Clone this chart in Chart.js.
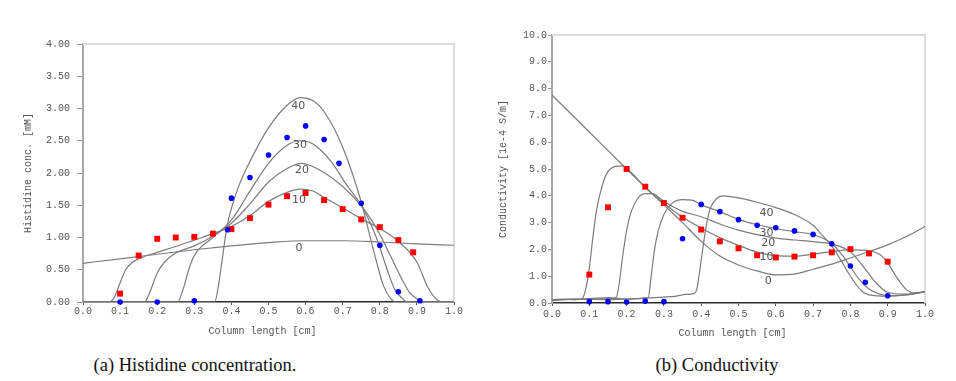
<!DOCTYPE html>
<html><head><meta charset="utf-8">
<script src="https://cdn.jsdelivr.net/npm/chart.js@4.4.1/dist/chart.umd.min.js"></script>
<style>
html,body{margin:0;padding:0;background:#fff}
body{width:956px;height:381px;position:relative;overflow:hidden}
#c1{position:absolute;left:0;top:0}
#c2{position:absolute;left:470px;top:0}
.cap{position:absolute;top:355px;font-family:"Liberation Serif","DejaVu Serif",serif;font-size:18.5px;color:#111;white-space:nowrap;transform:translateX(-50%)}
</style></head><body>
<canvas id="c1" width="470" height="345"></canvas>
<canvas id="c2" width="486" height="345"></canvas>
<div class="cap" style="left:195px">(a) Histidine concentration.</div>
<div class="cap" style="left:717px">(b) Conductivity</div>
<script>
// ---------- shared ticks ----------
const xTickVals = [0,0.1,0.2,0.3,0.4,0.5,0.6,0.7,0.8,0.9,1.0];
const histYTicks = [0,0.5,1,1.5,2,2.5,3,3.5,4];
const condYTicks = [0,1,2,3,4,5,6,7,8,9,10];

// ---------- (a) histidine: measured points ----------
const histRedX = [0.1,0.15,0.2,0.25,0.3,0.35,0.4,0.45,0.5,0.55,0.6,0.65,0.7,0.75,0.8,0.85,0.89];
const histRedY = [0.13,0.72,0.98,1.0,1.01,1.06,1.13,1.30,1.51,1.64,1.69,1.58,1.44,1.28,1.16,0.96,0.77];
const histBlueX = [0.1,0.2,0.3,0.39,0.4,0.45,0.5,0.55,0.6,0.65,0.69,0.75,0.8,0.85,0.908];
const histBlueY = [0,0,0.02,1.12,1.61,1.93,2.28,2.55,2.73,2.52,2.15,1.53,0.88,0.16,0.02];

// ---------- (a) histidine: model curves ----------
const hc0X = [0,0.1,0.2,0.3,0.4,0.5,0.6,0.7,0.8,0.9,1.0];
const hc0Y = [0.60,0.67,0.74,0.81,0.87,0.92,0.95,0.95,0.93,0.90,0.88];
const hc10X = [0,0.07,0.085,0.1,0.115,0.13,0.15,0.2,0.25,0.3,0.35,0.4,0.45,0.5,0.55,0.585,0.62,0.65,0.7,0.75,0.8,0.85,0.9,0.93,0.955,0.97,1.0];
const hc10Y = [0,0,0.08,0.3,0.5,0.6,0.67,0.77,0.86,0.96,1.06,1.17,1.34,1.56,1.7,1.75,1.72,1.62,1.46,1.29,1.14,0.94,0.62,0.22,0.03,0,0];
const hc20X = [0,0.165,0.18,0.2,0.22,0.25,0.3,0.35,0.4,0.45,0.5,0.55,0.59,0.64,0.7,0.75,0.78,0.8,0.83,0.86,0.88,0.9,0.92,1.0];
const hc20Y = [0,0,0.15,0.45,0.62,0.76,0.87,1.02,1.22,1.52,1.86,2.07,2.15,2.04,1.79,1.49,1.25,1.05,0.7,0.35,0.15,0.05,0,0];
const hc30X = [0,0.255,0.27,0.285,0.3,0.35,0.4,0.45,0.5,0.55,0.585,0.62,0.67,0.71,0.75,0.78,0.8,0.82,0.84,0.86,0.875,1.0];
const hc30Y = [0,0,0.2,0.5,0.72,1.0,1.27,1.72,2.15,2.43,2.5,2.45,2.17,1.82,1.5,1.15,0.85,0.5,0.2,0.06,0,0];
const hc40X = [0,0.355,0.365,0.375,0.388,0.4,0.42,0.45,0.5,0.55,0.585,0.62,0.65,0.7,0.75,0.77,0.79,0.81,0.83,0.845,1.0];
const hc40Y = [0,0,0.25,0.65,1.17,1.45,1.8,2.18,2.7,3.05,3.17,3.12,2.95,2.4,1.55,1.1,0.65,0.25,0.05,0,0];

const histLabelText = ['40','30','20','10','0'];
const histLabelX = [0.58,0.585,0.59,0.582,0.582];
const histLabelY = [3.04,2.43,2.05,1.58,0.84];

// ---------- (b) conductivity: measured points ----------
const condRedX = [0.1,0.15,0.2,0.25,0.3,0.35,0.4,0.45,0.5,0.55,0.6,0.65,0.7,0.75,0.8,0.85,0.9];
const condRedY = [1.06,3.57,5.0,4.34,3.73,3.18,2.74,2.30,2.04,1.78,1.70,1.73,1.78,1.89,2.01,1.85,1.54];
const condBlueX = [0.1,0.15,0.2,0.25,0.3,0.35,0.4,0.45,0.5,0.55,0.6,0.65,0.7,0.75,0.8,0.84,0.9];
const condBlueY = [0.05,0.05,0.04,0.07,0.05,2.40,3.68,3.41,3.11,2.90,2.81,2.69,2.56,2.21,1.38,0.77,0.27];

// ---------- (b) conductivity: model curves ----------
const cc0X = [0,0.1,0.2,0.25,0.3,0.35,0.4,0.45,0.5,0.55,0.6,0.65,0.7,0.75,0.8,0.85,0.9,0.95,1.0];
const cc0Y = [7.76,6.38,5.0,4.32,3.66,3.0,2.3,1.75,1.42,1.2,1.05,1.08,1.26,1.45,1.68,1.92,2.17,2.48,2.85];
const cc10X = [0,0.03,0.06,0.08,0.09,0.1,0.11,0.12,0.135,0.15,0.17,0.19,0.21,0.25,0.3,0.35,0.4,0.45,0.5,0.55,0.6,0.65,0.7,0.75,0.8,0.85,0.88,0.9,0.92,0.95,0.97,1.0];
const cc10Y = [0.12,0.14,0.12,0.15,0.5,1.3,2.5,3.5,4.4,4.9,5.1,5.12,4.9,4.32,3.72,3.2,2.8,2.44,2.15,1.9,1.77,1.75,1.82,1.92,1.98,1.95,1.8,1.5,1.05,0.5,0.38,0.42];
const cc20X = [0,0.05,0.1,0.15,0.172,0.18,0.19,0.2,0.21,0.23,0.25,0.27,0.29,0.3,0.35,0.4,0.45,0.5,0.55,0.6,0.65,0.7,0.75,0.8,0.835,0.87,0.9,0.95,1.0];
const cc20Y = [0.12,0.15,0.13,0.16,0.2,0.7,1.8,2.7,3.3,3.9,4.08,4.08,3.9,3.8,3.42,3.22,2.95,2.72,2.55,2.42,2.35,2.29,2.2,1.91,1.35,0.73,0.4,0.33,0.42];
const cc30X = [0,0.05,0.1,0.15,0.2,0.258,0.265,0.275,0.285,0.3,0.32,0.35,0.375,0.4,0.45,0.5,0.55,0.6,0.65,0.7,0.75,0.78,0.8,0.82,0.85,0.88,0.9,0.95,1.0];
const cc30Y = [0.1,0.13,0.15,0.12,0.15,0.2,0.9,2.0,2.7,3.3,3.7,3.86,3.84,3.66,3.41,3.12,2.92,2.78,2.66,2.55,2.22,1.75,1.35,0.95,0.52,0.32,0.28,0.3,0.42];
const cc40X = [0,0.05,0.1,0.15,0.2,0.25,0.3,0.33,0.36,0.38,0.388,0.395,0.405,0.415,0.425,0.44,0.46,0.5,0.55,0.6,0.65,0.7,0.72,0.75,0.77,0.8,0.83,0.85,0.9,0.95,1.0];
const cc40Y = [0.12,0.14,0.16,0.2,0.15,0.18,0.22,0.25,0.32,0.35,0.5,1.1,2.1,3.0,3.55,3.88,4.0,3.92,3.76,3.56,3.3,2.9,2.6,2.12,1.7,1.0,0.45,0.3,0.25,0.3,0.42];

const condLabelText = ['40','30','20','10','0'];
const condLabelX = [0.575,0.575,0.58,0.575,0.58];
const condLabelY = [3.35,2.62,2.23,1.70,0.80];

// ---------- helpers ----------
const pts = (xs, ys) => xs.map((x, i) => ({x: x, y: ys[i]}));
const MONO = '"Liberation Mono", "DejaVu Sans Mono", monospace';
const TXT = '#555';

function curve(xs, ys) {
  return {data: pts(xs, ys), showLine: true, pointRadius: 0, borderColor: '#7c7c7c',
          borderWidth: 1.2, cubicInterpolationMode: 'monotone', fill: false};
}
function redSet(xs, ys) {
  return {data: pts(xs, ys), showLine: false, pointStyle: 'rect', pointRadius: 4.2,
          backgroundColor: '#ff0000', borderWidth: 0, clip: false};
}
function blueSet(xs, ys) {
  return {data: pts(xs, ys), showLine: false, pointStyle: 'circle', pointRadius: 2.8,
          backgroundColor: '#0000ff', borderWidth: 0, clip: false};
}

const framePlugin = {
  id: 'frame',
  beforeDatasetsDraw(chart) {
    const {ctx, chartArea: a} = chart;
    ctx.save();
    ctx.strokeStyle = '#dcdcdc';
    ctx.lineWidth = 2;
    ctx.beginPath();
    ctx.moveTo(a.left, a.top);
    ctx.lineTo(a.right, a.top);
    ctx.lineTo(a.right, a.bottom);
    ctx.stroke();
    ctx.restore();
  }
};
const labelPlugin = {
  id: 'curveLabels',
  afterDatasetsDraw(chart, args, opts) {
    const {ctx, scales: {x, y}} = chart;
    ctx.save();
    ctx.font = '11px "DejaVu Sans", sans-serif';
    ctx.fillStyle = '#555';
    ctx.textAlign = 'center';
    ctx.textBaseline = 'middle';
    opts.text.forEach((t, i) => ctx.fillText(t, x.getPixelForValue(opts.xs[i]), y.getPixelForValue(opts.ys[i])));
    ctx.restore();
  }
};

function makeOptions(cfg) {
  return {
    responsive: false,
    animation: false,
    events: [],
    layout: {padding: {top: cfg.padTop, right: cfg.padRight, left: 0, bottom: 0}},
    plugins: {
      legend: {display: false},
      tooltip: {enabled: false},
      curveLabels: {text: cfg.labelText, xs: cfg.labelX, ys: cfg.labelY}
    },
    scales: {
      x: {
        type: 'linear', min: 0, max: 1,
        afterBuildTicks: s => { s.ticks = xTickVals.map(v => ({value: v})); },
        afterFit: s => { s.height = cfg.xHeight; },
        grid: {drawOnChartArea: false, drawTicks: true, tickLength: 3, color: '#555'},
        border: {display: true, color: '#2a2a2a', width: 1.6},
        ticks: {font: {family: MONO, size: 10}, color: TXT, padding: cfg.xTickPad,
                maxRotation: 0, autoSkip: false, callback: v => v.toFixed(1)},
        title: {display: true, text: 'Column length [cm]  ', color: TXT,
                font: {family: MONO, size: 10}, padding: {top: 0, bottom: cfg.xTitlePad}}
      },
      y: {
        type: 'linear', min: cfg.yMin, max: cfg.yMax,
        afterBuildTicks: s => { s.ticks = cfg.yTicks.map(v => ({value: v})); },
        afterFit: s => { s.width = cfg.yWidth; },
        grid: {drawOnChartArea: false, drawTicks: true, tickLength: cfg.yTickLen, color: '#999'},
        border: {display: true, color: '#a8a8a8', width: 2},
        ticks: {font: {family: MONO, size: 10}, color: TXT, padding: cfg.yTickPad,
                autoSkip: false, callback: v => v.toFixed(cfg.yDec)},
        title: {display: true, text: cfg.yTitle, color: TXT,
                font: {family: MONO, size: 10}, padding: {top: cfg.yTitlePad, bottom: 0}}
      }
    }
  };
}

new Chart(document.getElementById('c1'), {
  type: 'scatter',
  data: {datasets: [
    blueSet(histBlueX, histBlueY),
    redSet(histRedX, histRedY),
    curve(hc0X, hc0Y), curve(hc10X, hc10Y), curve(hc20X, hc20Y),
    curve(hc30X, hc30Y), curve(hc40X, hc40Y)
  ]},
  options: makeOptions({padTop: 44, padRight: 16, xHeight: 43, yWidth: 83,
    yMin: 0, yMax: 4, yTicks: histYTicks, yDec: 2, yTickLen: 6, yTickPad: 7,
    xTickPad: 0, xTitlePad: 7.5, yTitle: 'Histidine conc. [mM]', yTitlePad: 22,
    labelText: histLabelText, labelX: histLabelX, labelY: histLabelY}),
  plugins: [framePlugin, labelPlugin]
});

new Chart(document.getElementById('c2'), {
  type: 'scatter',
  data: {datasets: [
    blueSet(condBlueX, condBlueY),
    redSet(condRedX, condRedY),
    curve(cc0X, cc0Y), curve(cc10X, cc10Y), curve(cc20X, cc20Y),
    curve(cc30X, cc30Y), curve(cc40X, cc40Y)
  ]},
  options: makeOptions({padTop: 35, padRight: 31, xHeight: 42, yWidth: 82,
    yMin: 0, yMax: 10, yTicks: condYTicks, yDec: 1, yTickLen: 4, yTickPad: 1,
    xTickPad: 2, xTitlePad: 6, yTitle: 'Conductivity [1e-4 S/m]', yTitlePad: 27,
    labelText: condLabelText, labelX: condLabelX, labelY: condLabelY}),
  plugins: [framePlugin, labelPlugin]
});
</script>
</body></html>
